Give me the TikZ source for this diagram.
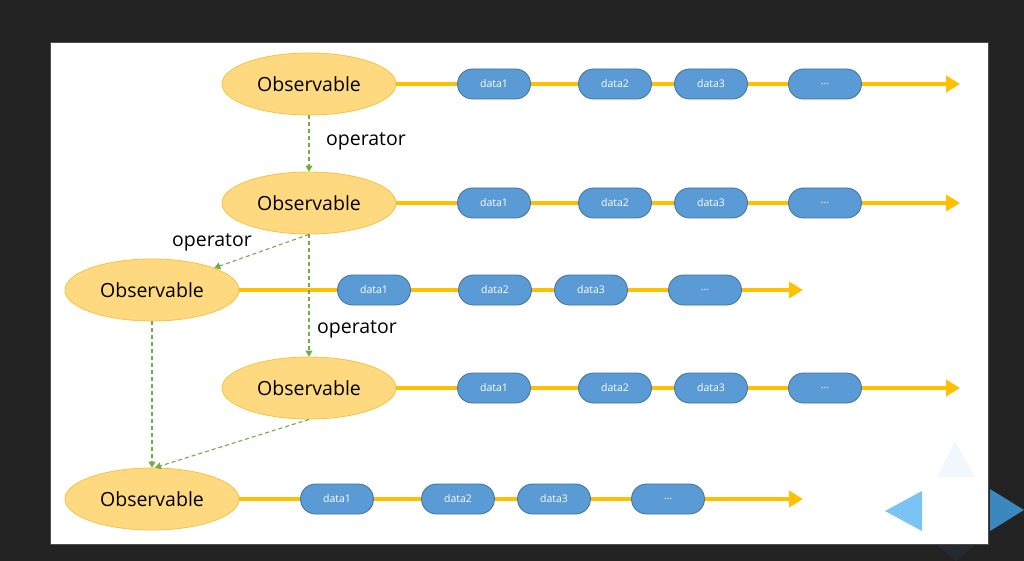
\documentclass[tikz,border=0pt]{standalone}
\usepackage{fontspec}
\setmainfont{Open Sans}
\usepackage{xcolor}
\usetikzlibrary{shapes.geometric,arrows.meta}

\definecolor{obsfill}{HTML}{FFD97F}
\definecolor{obsline}{HTML}{F5C343}
\definecolor{datafill}{HTML}{5B9BD5}
\definecolor{dataline}{HTML}{41719C}
\definecolor{flowc}{HTML}{FFC000}
\definecolor{opc}{HTML}{70AD47}
\definecolor{darkbg}{HTML}{222222}
\definecolor{navup}{HTML}{F0F7FD}
\definecolor{navleft}{HTML}{7CC3F5}
\definecolor{navright}{HTML}{3B88BE}
\definecolor{navdown}{HTML}{242A2F}

\begin{document}
\begin{tikzpicture}[x=1pt, y=-1pt,
  obs/.style={ellipse, draw=obsline, fill=obsfill, line width=0.8pt, minimum width=174pt, minimum height=62pt, inner sep=0pt, font=\fontsize{19.5}{23}\selectfont},
  datum/.style={draw=dataline, fill=datafill, line width=0.8pt, rounded corners=15pt, minimum width=73pt, minimum height=30pt, inner sep=0pt, text=white, font=\fontsize{10.5}{12}\selectfont},
  flow/.style={line width=4pt, draw=flowc, -{Triangle[width=16pt,length=14pt]}},
  op/.style={draw=opc, line width=1.1pt, dash pattern=on 4pt off 3pt, -{Triangle[width=7pt,length=6pt]}},
  oplabel/.style={font=\fontsize{19.5}{23}\selectfont}]
  % frame and slide
  \fill[darkbg] (0,0) rectangle (1024,561);
  \draw[fill=white, draw=gray!60!black] (50,42) rectangle (988,544);
  % navigation marks
  \fill[navup] (955,441) -- (975,477) -- (937,477) -- cycle;
  \fill[navleft] (885,511) -- (922,491) -- (922,531) -- cycle;
  \fill[navright] (990,489) -- (1024,510) -- (990,531) -- cycle;
  \fill[navdown] (937,545) -- (975,545) -- (956,561) -- cycle;

  \node[obs] (o1) at (309,84) {Observable};
  \node[obs] (o2) at (309,203) {Observable};
  \node[obs] (o3) at (152,290) {Observable};
  \node[obs] (o4) at (309,388) {Observable};
  \node[obs] (o5) at (152,499) {Observable};

  % data on each stream
  \foreach \r/\y in {1/84, 2/203, 4/388} {
    \node[datum] (d\r1) at (494,\y) {data1};
    \node[datum] (d\r2) at (615,\y) {data2};
    \node[datum] (d\r3) at (711,\y) {data3};
    \node[datum] (d\r4) at (825,\y) {...};
    \coordinate (e\r) at (960,\y);
  }
  \node[datum] (d31) at (374,290) {data1};
  \node[datum] (d32) at (495,290) {data2};
  \node[datum] (d33) at (591,290) {data3};
  \node[datum] (d34) at (705,290) {...};
  \coordinate (e3) at (803,290);
  \node[datum] (d51) at (337,499) {data1};
  \node[datum] (d52) at (458,499) {data2};
  \node[datum] (d53) at (554,499) {data3};
  \node[datum] (d54) at (668,499) {...};
  \coordinate (e5) at (803,499);

  \foreach \r in {1,...,5}
    \draw[flow] (o\r) -- (d\r1) -- (d\r2) -- (d\r3) -- (d\r4) -- (e\r);

  % operators
  \draw[op] (o1.south) -- (o2.north);
  \draw[op] (o2.south) -- (o3);
  \draw[op] (o2.south) -- (o4.north);
  \draw[op] (o3.south) -- (o5.north);
  \draw[op] (o4.south) -- ([xshift=3pt]o5.north);
  \node[oplabel] (op1) at (366,141) {operator};
  \node[oplabel] (op2) at (212,242) {operator};
  \node[oplabel] (op3) at (357,329) {operator};
\end{tikzpicture}
\end{document}
